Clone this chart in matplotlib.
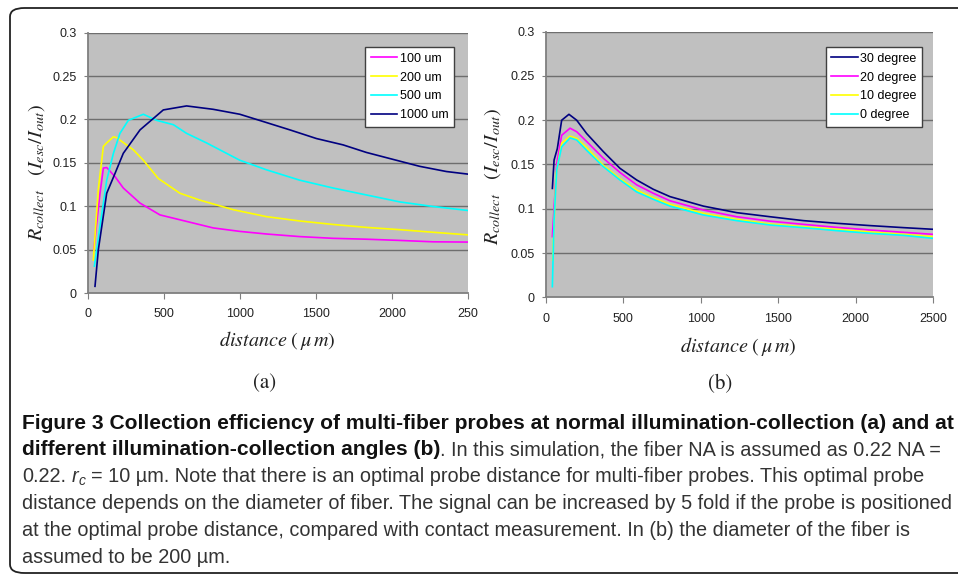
import matplotlib
matplotlib.use('Agg')
import matplotlib.pyplot as plt
from matplotlib.patches import FancyBboxPatch
import numpy as np

# DATA
# (a) normal illumination-collection, different fiber diameters
d_100 = [40, 81, 103, 125, 180, 234, 344, 475, 650, 825, 1000, 1175, 1394, 1613, 1832, 2051, 2270, 2500]
r_100 = [0.050, 0.115, 0.144, 0.1446, 0.134, 0.121, 0.1036, 0.090, 0.0825, 0.075, 0.071, 0.068, 0.065, 0.063, 0.062, 0.0606, 0.059, 0.0587]

d_200 = [37, 70, 103, 125, 169, 190, 300, 366, 464, 606, 738, 957, 1175, 1394, 1613, 1832, 2051, 2270, 2500]
r_200 = [0.038, 0.120, 0.169, 0.173, 0.180, 0.179, 0.165, 0.153, 0.132, 0.115, 0.107, 0.096, 0.088, 0.083, 0.079, 0.0756, 0.073, 0.070, 0.067]

d_500 = [44, 81, 125, 169, 212, 267, 366, 453, 563, 650, 781, 1000, 1175, 1394, 1613, 1832, 2051, 2270, 2500]
r_500 = [0.031, 0.077, 0.130, 0.161, 0.184, 0.199, 0.206, 0.199, 0.194, 0.184, 0.173, 0.153, 0.142, 0.130, 0.121, 0.113, 0.105, 0.0997, 0.0951]

d_1000 = [48, 70, 125, 180, 234, 344, 497, 650, 825, 1000, 1154, 1329, 1504, 1679, 1832, 2007, 2182, 2358, 2500]
r_1000 = [0.0077, 0.050, 0.115, 0.138, 0.161, 0.188, 0.211, 0.2156, 0.2117, 0.206, 0.1976, 0.188, 0.178, 0.1707, 0.162, 0.154, 0.146, 0.140, 0.137]

# (b) fiber diameter 200 um, different illumination-collection angles
d_30 = [43, 54, 75, 103, 150, 200, 264, 372, 479, 587, 694, 802, 1017, 1232, 1447, 1662, 1876, 2091, 2307, 2500]
r_30 = [0.123, 0.155, 0.168, 0.200, 0.2067, 0.200, 0.185, 0.1645, 0.1457, 0.1325, 0.122, 0.1137, 0.103, 0.0956, 0.091, 0.0866, 0.0836, 0.081, 0.0787, 0.0768]

d_20 = [43, 71, 103, 157, 200, 264, 372, 479, 587, 694, 802, 1017, 1232, 1447, 1662, 1876, 2091, 2307, 2500]
r_20 = [0.0685, 0.151, 0.183, 0.191, 0.187, 0.176, 0.157, 0.141, 0.127, 0.1175, 0.109, 0.0986, 0.091, 0.086, 0.0824, 0.079, 0.076, 0.0734, 0.0711]

d_10 = [45, 67, 103, 157, 200, 264, 372, 479, 587, 694, 802, 1017, 1232, 1447, 1662, 1876, 2091, 2307, 2500]
r_10 = [0.042, 0.140, 0.174, 0.182, 0.1795, 0.169, 0.149, 0.134, 0.121, 0.1125, 0.105, 0.0948, 0.088, 0.0828, 0.0798, 0.0768, 0.0738, 0.0711, 0.0685]

d_0 = [43, 54, 71, 103, 157, 200, 264, 372, 479, 587, 694, 802, 1017, 1232, 1447, 1662, 1876, 2091, 2307, 2500]
r_0 = [0.012, 0.087, 0.144, 0.170, 0.180, 0.1777, 0.166, 0.1475, 0.1325, 0.119, 0.1107, 0.103, 0.093, 0.0866, 0.0817, 0.0787, 0.0753, 0.0723, 0.070, 0.0666]

xticks = [0, 500, 1000, 1500, 2000, 2500]
xlabels_a = ['0', '500', '1000', '1500', '2000', '250']
xlabels_b = ['0', '500', '1000', '1500', '2000', '2500']
yticks = [0, 0.05, 0.1, 0.15, 0.2, 0.25, 0.3]
ylabels = ['0', '0.05', '0.1', '0.15', '0.2', '0.25', '0.3']

W, H = 958, 576
plt.rcParams['mathtext.fontset'] = 'stix'
plt.rcParams['font.family'] = ['Liberation Sans', 'DejaVu Sans']

fig = plt.figure(figsize=(W / 100, H / 100), dpi=100)

# rounded frame around the whole figure
frame = FancyBboxPatch((10 / W, 3 / H), 980 / W, 565 / H,
                       boxstyle='round,pad=0,rounding_size=0.015',
                       transform=fig.transFigure, fill=False,
                       edgecolor='#222222', lw=1.3, clip_on=False)
fig.patches.append(frame)


def px_axes(x0, y0, x1, y1):
    return fig.add_axes([x0 / W, 1 - y1 / H, (x1 - x0) / W, (y1 - y0) / H])


def style_axes(ax, xl):
    ax.set_facecolor('#c0c0c0')
    ax.set_xlim(0, 2500)
    ax.set_ylim(0, 0.3)
    ax.set_xticks(xticks)
    ax.set_xticklabels(xl)
    ax.set_yticks(yticks)
    ax.set_yticklabels(ylabels)
    for yv in yticks[1:]:
        ax.axhline(yv, color='#6e6e6e', lw=1.0, zorder=1)
    for s in ['top', 'right']:
        ax.spines[s].set_visible(False)
    for s in ['left', 'bottom']:
        ax.spines[s].set_color('#7f7f7f')
        ax.spines[s].set_linewidth(1.3)
    ax.tick_params(axis='y', direction='out', length=3, color='#7f7f7f',
                   labelsize=9, labelcolor='#222222', pad=5)
    ax.tick_params(axis='x', direction='out', length=4, color='#7f7f7f',
                   labelsize=9, labelcolor='#222222', pad=7)


def legend(ax, anchor):
    leg = ax.legend(loc='upper right', bbox_to_anchor=anchor, borderaxespad=0,
                    fontsize=9, frameon=True, fancybox=False, framealpha=1,
                    edgecolor='#404040', handlelength=2.1, handletextpad=0.2,
                    labelspacing=0.55, borderpad=0.45)
    leg.get_frame().set_linewidth(1.0)


# (a)
ax1 = px_axes(87.7, 32.7, 468, 293)
style_axes(ax1, xlabels_a)
ax1.plot(d_100, r_100, color='#ff00ff', lw=1.2, label='100 um', zorder=3)
ax1.plot(d_200, r_200, color='#ffff00', lw=1.2, label='200 um', zorder=3)
ax1.plot(d_500, r_500, color='#00ffff', lw=1.2, label='500 um', zorder=3)
ax1.plot(d_1000, r_1000, color='#000080', lw=1.2, label='1000 um', zorder=3)
legend(ax1, (0.963, 0.945))

# (b)
ax2 = px_axes(545.7, 31.7, 933.3, 297.3)
style_axes(ax2, xlabels_b)
ax2.plot(d_30, r_30, color='#000080', lw=1.2, label='30 degree', zorder=3)
ax2.plot(d_20, r_20, color='#ff00ff', lw=1.2, label='20 degree', zorder=3)
ax2.plot(d_10, r_10, color='#ffff00', lw=1.2, label='10 degree', zorder=3)
ax2.plot(d_0, r_0, color='#00ffff', lw=1.2, label='0 degree', zorder=3)
legend(ax2, (0.971, 0.942))

ylab = r'$R_{collect}\quad(I_{esc}/I_{out})$'
fig.text(37 / W, 1 - 173 / H, ylab, rotation=90, ha='center', va='center',
         fontsize=14.5, color='#222222')
fig.text(493 / W, 1 - 177 / H, ylab, rotation=90, ha='center', va='center',
         fontsize=14.5, color='#222222')

xlab = r'$distance\ (\,\mu\, m)$'
fig.text(277 / W, 1 - 341 / H, xlab, ha='center', va='center', fontsize=14.5,
         color='#222222')
fig.text(738 / W, 1 - 346 / H, xlab, ha='center', va='center', fontsize=14.5,
         color='#222222')
fig.text(265 / W, 1 - 383 / H, '(a)', ha='center', va='center', fontsize=15,
         family='STIXGeneral', color='#222222')
fig.text(720 / W, 1 - 384 / H, '(b)', ha='center', va='center', fontsize=15,
         family='STIXGeneral', color='#222222')

# caption, written run by run
cap_font = ['Liberation Sans', 'DejaVu Sans']
bold_size = 15.1
reg_size = 14.3
bold = dict(family=cap_font, fontsize=bold_size, fontweight='bold', color='#111111')
reg = dict(family=cap_font, fontsize=reg_size, color='#333333')
ital = dict(family=cap_font, fontsize=reg_size, style='italic', color='#333333')
sub = dict(family=cap_font, fontsize=reg_size * 0.7, style='italic', color='#333333')

renderer = fig.canvas.get_renderer()


def width_of(s, kw):
    t = fig.text(0, 0, s, **kw)
    w = t.get_window_extent(renderer).width
    t.remove()
    return w


space = width_of('a a', reg) - width_of('aa', reg)


def put_runs(x, y, runs):
    for s, kw, dy, gap in runs:
        t = fig.text(x / W, 1 - (y + dy) / H, s, ha='left', va='baseline', **kw)
        x += t.get_window_extent(renderer).width + gap * space


x0 = 22
lines_y = [429, 455, 482, 509, 536, 563]
put_runs(x0, lines_y[0], [('Figure 3 Collection efficiency of multi-fiber probes at normal '
                           'illumination-collection (a) and at', bold, 0, 0)])
put_runs(x0, lines_y[1], [('different illumination-collection angles (b)', bold, 0, 0),
                          ('. In this simulation, the fiber NA is assumed as 0.22 NA =', reg, 0, 0)])
put_runs(x0, lines_y[2], [('0.22.', reg, 0, 1), ('r', ital, 0, 0), ('c', sub, 3, 1),
                          ('= 10 \u00b5m. Note that there is an optimal probe distance for '
                           'multi-fiber probes. This optimal probe', reg, 0, 0)])
put_runs(x0, lines_y[3], [('distance depends on the diameter of fiber. The signal can be '
                           'increased by 5 fold if the probe is positioned', reg, 0, 0)])
put_runs(x0, lines_y[4], [('at the optimal probe distance, compared with contact measurement. '
                           'In (b) the diameter of the fiber is', reg, 0, 0)])
put_runs(x0, lines_y[5], [('assumed to be 200 \u00b5m.', reg, 0, 0)])

fig.savefig('out.png', dpi=100)
